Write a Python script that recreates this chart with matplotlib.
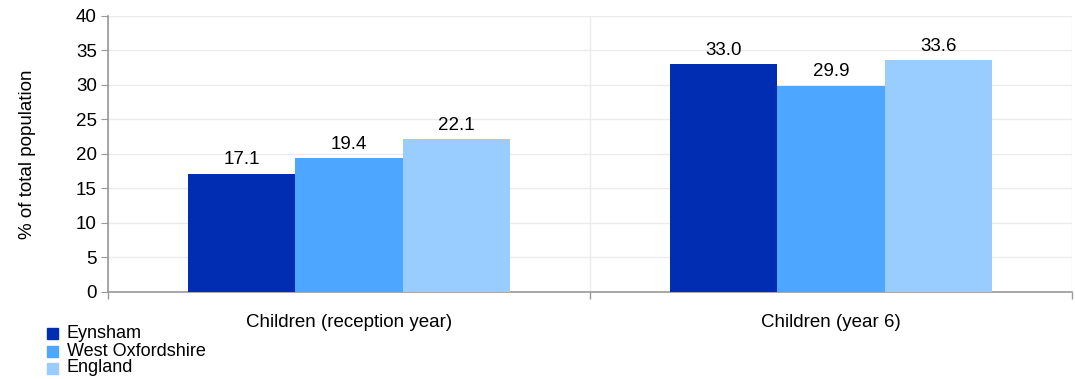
import numpy as np
import matplotlib.pyplot as plt
from matplotlib.patches import Rectangle

plt.rcParams['font.family'] = ['Liberation Sans', 'DejaVu Sans']

categories = ["Children (reception year)", "Children (year 6)"]
series = ["Eynsham", "West Oxfordshire", "England"]
eynsham = [17.1, 33.0]
west_oxon = [19.4, 29.9]
england = [22.1, 33.6]
colors = ["#002db2", "#4da6ff", "#99ccff"]

fs = 13.5
W, H = 1075, 379
fig = plt.figure(figsize=(W / 100, H / 100), dpi=100)
ax = fig.add_axes([0.1005, 0.2296, 0.8967, 0.7282])

x = np.arange(len(categories))
w = 0.67 / 3
for i, (vals, c) in enumerate(zip([eynsham, west_oxon, england], colors)):
    pos = x + (i - 1) * w
    ax.bar(pos, vals, width=w, color=c, zorder=3)
    for p, v in zip(pos, vals):
        ax.text(p, v + 0.8, f"{v:.1f}", ha="center", va="bottom", fontsize=fs)

ax.set_xlim(-0.5, 1.5)
ax.set_ylim(0, 40)
ax.set_yticks(np.arange(0, 41, 5))
ax.set_xticks(x)
ax.set_xticklabels(categories, fontsize=fs)
ax.set_xticks([-0.5, 0.5, 1.5], minor=True)
ax.tick_params(axis="x", which="major", length=0, pad=16)
ax.tick_params(axis="x", which="minor", length=5, color="#999999", width=1)
ax.tick_params(axis="y", length=5, color="#999999", labelsize=fs, pad=3)
ax.set_ylabel("% of total population", fontsize=fs, labelpad=29)

ax.grid(axis="y", color="#ebebeb", linewidth=1, zorder=0)
ax.grid(axis="x", which="minor", color="#ebebeb", linewidth=1, zorder=0)
for s in ["top", "right"]:
    ax.spines[s].set_visible(False)
for s in ["left", "bottom"]:
    ax.spines[s].set_color("#999999")
    ax.spines[s].set_linewidth(1.2)

# legend drawn by hand, rows are tight like the original
rows_y = [333, 351, 368]
for s, c, yy in zip(series, colors, rows_y):
    fig.patches.append(Rectangle((47 / W, (H - yy - 5.5) / H), 11 / W, 11 / H,
                                 transform=fig.transFigure, color=c))
    fig.text(67 / W, (H - yy) / H, s, fontsize=13, va="center", ha="left")

fig.savefig("out.png", dpi=100)
